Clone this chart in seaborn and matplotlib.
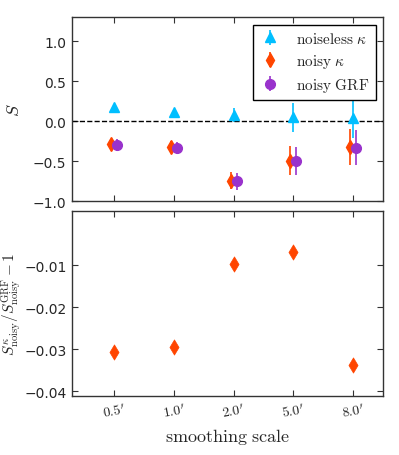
import numpy as np
import matplotlib
matplotlib.use("Agg")
import matplotlib.pyplot as plt
import seaborn as sns
import pandas as pd

scales = ["0.5", "1.0", "2.0", "5.0", "8.0"]
noiseless_S = [0.18, 0.11, 0.075, 0.045, 0.033]
noiseless_err = [0.03, 0.03, 0.09, 0.18, 0.25]
noisy_k_S = [-0.29, -0.325, -0.745, -0.495, -0.325]
noisy_k_err = [0.07, 0.07, 0.11, 0.18, 0.23]
noisy_grf_S = [-0.30, -0.335, -0.755, -0.50, -0.335]
noisy_grf_err = [0.07, 0.07, 0.11, 0.18, 0.22]
ratio = [-0.0307, -0.0295, -0.0096, -0.0069, -0.0338]

sns.set_style("ticks")
plt.rcParams["mathtext.fontset"] = "cm"
plt.rcParams["font.family"] = ["DejaVu Sans"]
plt.rcParams["axes.linewidth"] = 1.0
plt.rcParams["axes.edgecolor"] = "#333333"

c_nl = "#00BFFF"
c_nk = "#FF4500"
c_grf = "#9932CC"

fig = plt.figure(figsize=(3.99, 4.56), dpi=100)
ax1 = fig.add_axes([0.1805, 0.557, 0.780, 0.4035])
ax2 = fig.add_axes([0.1805, 0.1294, 0.780, 0.4057])

x = np.arange(len(scales))
off = 0.05
ax1.errorbar(x, noiseless_S, yerr=noiseless_err, fmt="^", color=c_nl, ms=7,
             mec=c_nl, elinewidth=1.2, capsize=0, label=r"$\mathrm{noiseless}\ \kappa$")
ax1.errorbar(x - off, noisy_k_S, yerr=noisy_k_err, fmt="d", color=c_nk, ms=7,
             mec=c_nk, elinewidth=1.2, capsize=0, label=r"$\mathrm{noisy}\ \kappa$")
ax1.errorbar(x + off, noisy_grf_S, yerr=noisy_grf_err, fmt="o", color=c_grf, ms=7,
             mec=c_grf, elinewidth=1.2, capsize=0, label=r"$\mathrm{noisy\ GRF}$")
ax1.axhline(0, color="black", ls="--", lw=1)
ax1.set_ylim(-1.0, 1.3)
ax1.set_yticks([-1.0, -0.5, 0.0, 0.5, 1.0])
ax1.set_xlim(-0.7, 4.5)
ax1.set_xticks(x)
ax1.set_xticklabels([])
ax1.set_ylabel(r"$S$", fontsize=13)
ax1.yaxis.set_label_coords(-0.157, 0.5)
leg = ax1.legend(loc="upper right", fontsize=11, frameon=True, fancybox=False,
                 edgecolor="black", numpoints=1, handletextpad=1.0, handlelength=1.4,
                 borderaxespad=0.5, framealpha=1, labelspacing=0.4)
leg.get_frame().set_linewidth(1.0)

df = pd.DataFrame({"x": x, "ratio": ratio})
sns.scatterplot(data=df, x="x", y="ratio", ax=ax2, marker="d", s=60,
                color=c_nk, edgecolor=c_nk, linewidth=0.5)
ax2.set_xlim(-0.7, 4.5)
ax2.set_ylim(-0.0411, 0.0029)
ax2.set_yticks([-0.04, -0.03, -0.02, -0.01])
ax2.set_xticks(x)
ax2.set_xticklabels([rf"${s}'$" for s in scales], rotation=10, fontsize=12)
ax2.set_xlabel(r"$\mathrm{smoothing\ scale}$", fontsize=13)
ax2.set_ylabel(r"$S^{\kappa}_{\rm noisy}/S^{\rm GRF}_{\rm noisy}-1$", fontsize=11)
ax2.yaxis.set_label_coords(-0.158, 0.5)

for ax in (ax1, ax2):
    ax.tick_params(direction="in", top=True, right=True, length=4, width=0.8,
                   labelsize=10, color="#333333", pad=4)
    for s in ax.spines.values():
        s.set_visible(True)

fig.savefig("out.png", dpi=100)
